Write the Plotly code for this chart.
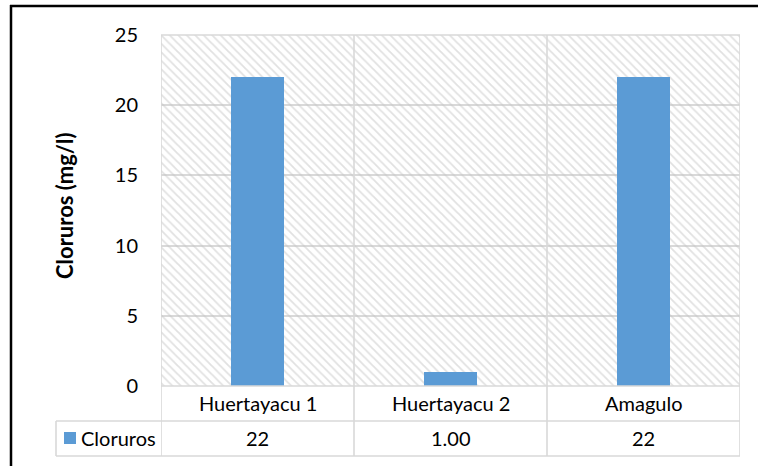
import plotly.graph_objects as go

# Data
categories = ["Huertayacu 1", "Huertayacu 2", "Amagulo"]
cloruros = [22, 1.00, 22]
cloruros_text = ["22", "1.00", "22"]
series_name = "Cloruros"
y_ticks = [0, 5, 10, 15, 20, 25]
y_title = "Cloruros (mg/l)"

# Canvas and plot-area geometry (pixels)
W, H = 758, 466
L, R, T, B = 161, 740, 35, 386
FONT = "Lato, Carlito, Calibri, sans-serif"
BAR_COLOR = "#5B9BD5"
GRID = "#d9d9d9"


def fx(px):
    return (px - L) / (R - L)


def fy(py):
    return (B - py) / (B - T)


xs = list(range(len(categories)))
ymax = y_ticks[-1]

fig = go.Figure()

# Hatched plot-area background, one panel per category
fig.add_trace(go.Bar(
    x=xs, y=[ymax] * len(xs), width=1.0,
    marker=dict(color="rgba(0,0,0,0)", line=dict(width=0),
                pattern=dict(shape="\\", fgcolor="#c4c4c4", size=6,
                             solidity=0.3, fillmode="overlay")),
    hoverinfo="skip", showlegend=False,
))

# Data bars
fig.add_trace(go.Bar(
    x=xs, y=cloruros, width=0.275, name=series_name,
    marker=dict(color=BAR_COLOR, line=dict(width=0)),
    showlegend=False,
))

shapes = []
line_style = dict(color=GRID, width=1.6)

# Plot-area frame and category separators
for xv in [-0.5 + i for i in range(len(xs) + 1)]:
    shapes.append(dict(type="line", xref="x", yref="paper",
                       x0=xv, x1=xv, y0=1, y1=fy(456), line=line_style))
shapes.append(dict(type="line", xref="x", yref="paper",
                   x0=-0.5, x1=len(xs) - 0.5, y0=1, y1=1, line=line_style))
shapes.append(dict(type="line", xref="x", yref="paper",
                   x0=-0.5, x1=len(xs) - 0.5, y0=0, y1=0, line=line_style))

# Data table rows (legend cell extends to the left)
for py in (421, 456):
    shapes.append(dict(type="line", xref="paper", yref="paper",
                       x0=fx(56), x1=1, y0=fy(py), y1=fy(py), line=line_style))
shapes.append(dict(type="line", xref="paper", yref="paper",
                   x0=fx(56), x1=fx(56), y0=fy(421), y1=fy(456), line=line_style))

# Legend key swatch
shapes.append(dict(type="rect", xref="paper", yref="paper",
                   x0=fx(64), x1=fx(76), y0=fy(432), y1=fy(444),
                   fillcolor=BAR_COLOR, line=dict(width=0)))

# Outer chart border (left and top edges)
shapes.append(dict(type="line", xref="paper", yref="paper",
                   x0=fx(11), x1=fx(11), y0=fy(5), y1=fy(H),
                   line=dict(color="black", width=2.5)))
shapes.append(dict(type="line", xref="paper", yref="paper",
                   x0=fx(10), x1=fx(W), y0=fy(6), y1=fy(6),
                   line=dict(color="black", width=2.5)))

cell_font = dict(family=FONT, size=20, color="black")
annotations = []
for i, (cat, txt) in enumerate(zip(categories, cloruros_text)):
    annotations.append(dict(x=i, y=fy(403), xref="x", yref="paper", text=cat,
                            xanchor="center", yanchor="middle",
                            showarrow=False, font=cell_font))
    annotations.append(dict(x=i, y=fy(438), xref="x", yref="paper", text=txt,
                            xanchor="center", yanchor="middle",
                            showarrow=False, font=cell_font))
annotations.append(dict(x=fx(79), y=fy(438), xref="paper", yref="paper", text=series_name,
                        xanchor="left", yanchor="middle", showarrow=False, font=cell_font))
annotations.append(dict(x=fx(64), y=fy(206), xref="paper", yref="paper", text=y_title,
                        xanchor="center", yanchor="middle",
                        textangle=-90, showarrow=False,
                        font=dict(family=FONT, size=22, color="black", weight="bold")))

fig.update_layout(
    width=W, height=H,
    margin=dict(l=L, r=W - R, t=T, b=H - B, pad=0),
    paper_bgcolor="white", plot_bgcolor="white",
    barmode="overlay", bargap=0,
    showlegend=False,
    shapes=shapes, annotations=annotations,
    font=dict(family=FONT, color="black"),
)
fig.update_xaxes(range=[-0.5, len(xs) - 0.5], showticklabels=False, showgrid=False,
                 zeroline=False, showline=False, ticks="", fixedrange=True)
fig.update_yaxes(range=[0, ymax], tickvals=y_ticks, showgrid=True, gridcolor=GRID,
                 gridwidth=1.6, zeroline=False, showline=False, ticks="",
                 ticklabelstandoff=22, tickfont=dict(family=FONT, size=20, color="black"),
                 fixedrange=True)

fig.write_html("out.html")
